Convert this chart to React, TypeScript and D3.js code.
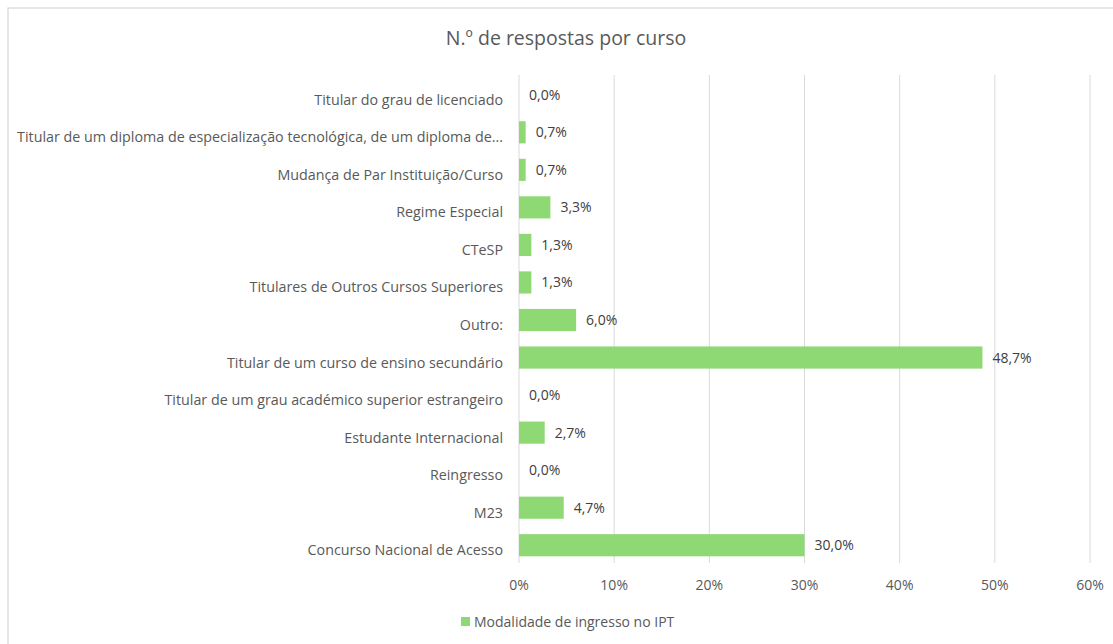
import * as d3 from "d3";

const categories = [
  "Titular do grau de licenciado",
  "Titular de um diploma de especialização tecnológica, de um diploma de...",
  "Mudança de Par Instituição/Curso",
  "Regime Especial",
  "CTeSP",
  "Titulares de Outros Cursos Superiores",
  "Outro:",
  "Titular de um curso de ensino secundário",
  "Titular de um grau académico superior estrangeiro",
  "Estudante Internacional",
  "Reingresso",
  "M23",
  "Concurso Nacional de Acesso",
];
const values = [0.0, 0.7, 0.7, 3.3, 1.3, 1.3, 6.0, 48.7, 0.0, 2.7, 0.0, 4.7, 30.0];
const xTicks = [0, 10, 20, 30, 40, 50, 60];
const seriesName = "Modalidade de ingresso no IPT";
const title = "N.º de respostas por curso";

const W = 1113;
const H = 644;
const font = "'Open Sans', 'Noto Sans', sans-serif";
const textColor = "#595959";
const barColor = "#8ED973";

export default function App() {
  const x = d3.scaleLinear().domain([0, 60]).range([519, 1090]);
  const y = d3.scaleBand().domain(categories).range([76, 564]).paddingInner(0.41).paddingOuter(0.205);
  const fmt = (v: number) => v.toFixed(1).replace(".", ",") + "%";

  return (
    <svg width={W} height={H} style={{ position: "absolute", left: 0, top: 0 }}>
      <rect x={0} y={0} width={W} height={H} fill="#fff" />
      <rect x={8} y={8} width={W + 10} height={H + 10} fill="#fff" stroke="#d9d9d9" strokeWidth={1.3} />
      <text x={566} y={45} textAnchor="middle" fontFamily={font} fontSize={19.5} fill={textColor}>{title}</text>
      {xTicks.map(t => (
        <g key={t}>
          <line x1={x(t)} x2={x(t)} y1={75} y2={563} stroke="#d9d9d9" strokeWidth={1} />
          <text x={x(t)} y={590} textAnchor="middle" fontFamily={font} fontSize={14} fill={textColor}>{t}%</text>
        </g>
      ))}
      {categories.map((c, i) => {
        const yc = (y(c) ?? 0) + y.bandwidth() / 2;
        return (
          <g key={c}>
            <text x={503} y={yc + 10} textAnchor="end" fontFamily={font} fontSize={14.3} fill={textColor}>{c}</text>
            <rect x={x(0)} y={y(c)} width={x(values[i]) - x(0)} height={y.bandwidth()} fill={barColor} />
            <text x={x(values[i]) + 10} y={yc + 5} fontFamily={font} fontSize={14} fill="#404040">{fmt(values[i])}</text>
          </g>
        );
      })}
      <rect x={461} y={617} width={9} height={9} fill={barColor} />
      <text x={474} y={627} fontFamily={font} fontSize={14} fill={textColor}>{seriesName}</text>
    </svg>
  );
}
